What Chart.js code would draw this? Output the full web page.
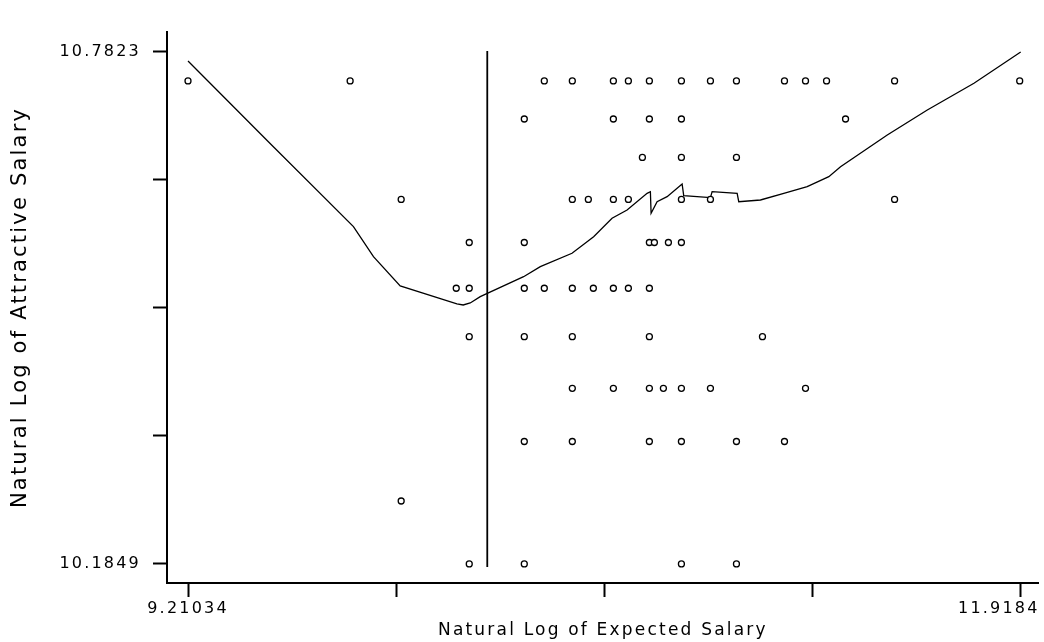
<!DOCTYPE html>
<html>
<head>
<meta charset="utf-8">
<script src="https://cdn.jsdelivr.net/npm/chart.js@4"></script>
<style>
  html, body { margin: 0; padding: 0; background: #fff; }
  #wrap { width: 1044px; height: 642px; }
</style>
</head>
<body>
<div id="wrap"><canvas id="chart"></canvas></div>
<script>
// ── Data ──────────────────────────────────────────────────────────────────────
// observed cases (ln expected salary, ln attractive salary)
const pointX = [
  9.2103, 9.7376, 10.3691, 10.4602, 10.5937, 10.6425, 10.7108, 10.8150, 10.9094, 10.9940, 11.1502, 11.2186, 11.2870, 11.5083, 11.9152,
  10.3040, 10.5937, 10.7108, 10.8150, 11.3488,
  10.6881, 10.8150, 10.9940,
  9.9036, 10.4602, 10.5123, 10.5937, 10.6425, 10.8150, 10.9094, 11.5083,
  10.1250, 10.3040, 10.7108, 10.7271, 10.7727, 10.8150,
  10.0827, 10.1250, 10.3040, 10.3691, 10.4602, 10.5286, 10.5937, 10.6425, 10.7108,
  10.1250, 10.3040, 10.4602, 10.7108, 11.0786,
  10.4602, 10.5937, 10.7108, 10.7564, 10.8150, 10.9094, 11.2186,
  10.3040, 10.4602, 10.7108, 10.8150, 10.9940, 11.1502,
  9.9036,
  10.1250, 10.3040, 10.8150, 10.9940
];
const pointY = [
  10.7485, 10.7485, 10.7485, 10.7485, 10.7485, 10.7485, 10.7485, 10.7485, 10.7485, 10.7485, 10.7485, 10.7485, 10.7485, 10.7485, 10.7485,
  10.7041, 10.7041, 10.7041, 10.7041, 10.7041,
  10.6592, 10.6592, 10.6592,
  10.6102, 10.6102, 10.6102, 10.6102, 10.6102, 10.6102, 10.6102, 10.6102,
  10.5600, 10.5600, 10.5600, 10.5600, 10.5600, 10.5600,
  10.5066, 10.5066, 10.5066, 10.5066, 10.5066, 10.5066, 10.5066, 10.5066, 10.5066,
  10.4501, 10.4501, 10.4501, 10.4501, 10.4501,
  10.3899, 10.3899, 10.3899, 10.3899, 10.3899, 10.3899, 10.3899,
  10.3278, 10.3278, 10.3278, 10.3278, 10.3278, 10.3278,
  10.2584,
  10.1849, 10.1849, 10.1849, 10.1849
];

// smoothed fit
const fitX = [
  9.2103, 9.4717, 9.7484, 9.8135, 9.9004, 10.0849, 10.1054, 10.1282, 10.1608, 10.3017,
  10.3561, 10.4592, 10.5295, 10.5894, 10.6383, 10.7034, 10.7141, 10.7164, 10.7359, 10.7685,
  10.8173, 10.8225, 10.9094, 10.9149, 10.9963, 11.0015, 11.0721, 11.1480, 11.2241, 11.2944,
  11.3325, 11.4845, 11.6147, 11.7664, 11.9184
];
const fitY = [
  10.7718, 10.6776, 10.5785, 10.5435, 10.5093, 10.4883, 10.4871, 10.4894, 10.4968, 10.5201,
  10.5318, 10.5474, 10.5668, 10.5883, 10.5979, 10.6174, 10.6193, 10.5941, 10.6076, 10.6135,
  10.6283, 10.6146, 10.6123, 10.6193, 10.6174, 10.6076, 10.6096, 10.6174, 10.6251, 10.6368,
  10.6485, 10.6855, 10.7146, 10.7458, 10.7823
];

// reference line
const refX = [10.1836, 10.1836];
const refY = [10.1815, 10.7835];

const xTicks = [9.21034, 9.887355, 10.56437, 11.241385, 11.9184];
const yTicks = [10.1849, 10.33425, 10.4836, 10.63295, 10.7823];
const xTickLabels = ['9.21034', '', '', '', '11.9184      '];
const yTickLabels = ['10.1849', '', '', '', '10.7823'];

function pairs(xs, ys) { return xs.map((x, i) => ({ x: x, y: ys[i] })); }

// ── Chart ─────────────────────────────────────────────────────────────────────
const spacing = {
  id: 'spacing',
  beforeLayout(chart) { chart.ctx.letterSpacing = '2.2px'; },
  beforeDraw(chart) { chart.ctx.letterSpacing = '2.2px'; }
};

Chart.defaults.font.family = '"DejaVu Sans", sans-serif';
Chart.defaults.color = '#000';

new Chart(document.getElementById('chart'), {
  type: 'scatter',
  data: {
    datasets: [
      { data: pairs(pointX, pointY), pointStyle: 'circle', pointRadius: 3, borderWidth: 1.3,
        borderColor: '#000', backgroundColor: '#fff' },
      { data: pairs(fitX, fitY), showLine: true, pointRadius: 0, borderColor: '#000',
        borderWidth: 1.3, tension: 0 },
      { data: pairs(refX, refY), showLine: true, pointRadius: 0, borderColor: '#000',
        borderWidth: 1.8 }
    ]
  },
  options: {
    responsive: true, maintainAspectRatio: false, animation: false,
    layout: { padding: { top: 32, right: 0, left: 0, bottom: 0 } },
    plugins: { legend: { display: false }, tooltip: { enabled: false } },
    scales: {
      x: {
        type: 'linear', min: 9.142, max: 11.977,
        afterBuildTicks: s => { s.ticks = xTicks.map(v => ({ value: v })); },
        afterFit: s => { s.height = 59; s.paddingLeft = 0; s.paddingRight = 0; },
        ticks: { font: { size: 16 }, padding: 2, maxRotation: 0, autoSkip: false,
          callback: (v, i) => xTickLabels[i] },
        grid: { drawOnChartArea: false, tickLength: 14, tickWidth: 2, tickColor: '#000' },
        border: { display: true, color: '#000', width: 2 },
        title: { display: true, text: 'Natural Log of Expected Salary', font: { size: 17 },
          padding: { top: 0, bottom: 1 } }
      },
      y: {
        type: 'linear', min: 10.1627, max: 10.8056,
        afterBuildTicks: s => { s.ticks = yTicks.map(v => ({ value: v })); },
        afterFit: s => { s.width = 167; s.paddingTop = 0; s.paddingBottom = 0; },
        ticks: { font: { size: 16 }, padding: 12, autoSkip: false,
          callback: (v, i) => yTickLabels[i] },
        grid: { drawOnChartArea: false, tickLength: 14, tickWidth: 2, tickColor: '#000' },
        border: { display: true, color: '#000', width: 2 },
        title: { display: true, text: 'Natural Log of Attractive Salary', font: { size: 21 },
          padding: { top: 8, bottom: 0 } }
      }
    }
  },
  plugins: [spacing]
});
</script>
</body>
</html>
